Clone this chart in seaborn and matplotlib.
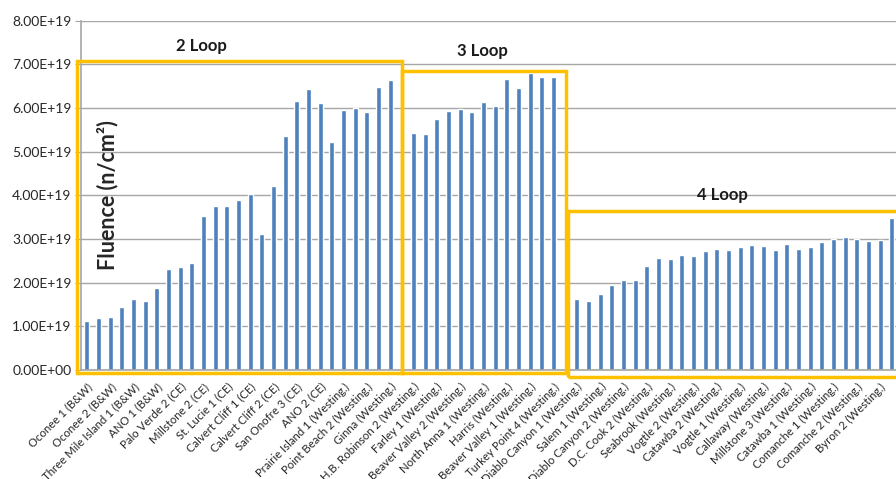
import numpy as np
import pandas as pd
import matplotlib
matplotlib.use("Agg")
import matplotlib.pyplot as plt
from matplotlib.patches import Rectangle
from matplotlib.ticker import FuncFormatter, MultipleLocator
import seaborn as sns

# Peak vessel fluence per plant (n/cm^2), grouped by number of coolant loops
fluence_2loop = np.array([1.13, 1.20, 1.22, 1.44, 1.62, 1.57, 1.87, 2.32, 2.35, 2.46,
                          3.53, 3.75, 3.75, 3.90, 4.02, 3.12, 4.22, 5.36, 6.17, 6.43,
                          6.11, 5.21, 5.95, 5.99, 5.91, 6.49, 6.64]) * 1e19
fluence_3loop = np.array([5.43, 5.41, 5.74, 5.92, 5.98, 5.91, 6.14, 6.05, 6.66, 6.46,
                          6.80, 6.71, 6.71]) * 1e19
fluence_4loop = np.array([1.62, 1.59, 1.73, 1.95, 2.05, 2.05, 2.37, 2.56, 2.54, 2.63,
                          2.62, 2.72, 2.76, 2.74, 2.82, 2.86, 2.84, 2.75, 2.88, 2.78,
                          2.81, 2.92, 3.00, 3.05, 3.00, 2.95, 2.98, 3.48]) * 1e19

# Every other plant carries a visible axis label
labels_2loop = ["Oconee 1 (B&W)", "Oconee 2 (B&W)", "Three Mile Island 1 (B&W)",
                "ANO 1 (B&W)", "Palo Verde 2 (CE)", "Millstone 2 (CE)",
                "St. Lucie 1 (CE)", "Calvert Cliff 1 (CE)", "Calvert Cliff 2 (CE)",
                "San Onofre 3 (CE)", "ANO 2 (CE)", "Prairie Island 1 (Westing.)",
                "Point Beach 2 (Westing.)", "Ginna (Westing.)"]
labels_3loop = ["H.B. Robinson 2 (Westing.)", "Farley 1 (Westing.)",
                "Beaver Valley 2 (Westing.)", "North Anna 1 (Westing.)",
                "Harris (Westing.)", "Beaver Valley 1 (Westing.)",
                "Turkey Point 4 (Westing.)"]
labels_4loop = ["Diablo Canyon 1 (Westing.)", "Salem 1 (Westing.)",
                "Diablo Canyon 2 (Westing.)", "D.C. Cook 2 (Westing.)",
                "Seabrook (Westing.)", "Vogtle 2 (Westing.)", "Catawba 2 (Westing.)",
                "Vogtle 1 (Westing.)", "Callaway (Westing.)", "Millstone 3 (Westing.)",
                "Catawba 1 (Westing.)", "Comanche 1 (Westing.)",
                "Comanche 2 (Westing.)", "Byron 2 (Westing.)"]

group_names = ["2 Loop", "3 Loop", "4 Loop"]

sns.set_style("white")
plt.rcParams["font.family"] = ["Lato", "DejaVu Sans"]

# Lay groups out along the category axis with one empty slot between groups
groups = [fluence_2loop, fluence_3loop, fluence_4loop]
group_labels = [labels_2loop, labels_3loop, labels_4loop]
positions, values, starts = [], [], []
slot = 0
for vals in groups:
    starts.append(slot)
    for v in vals:
        positions.append(slot)
        values.append(v)
        slot += 1
    slot += 1
n_slots = slot - 1
df = pd.DataFrame({"slot": positions, "fluence": values})

label_pos, label_txt = [], []
for st, vals, labs in zip(starts, groups, group_labels):
    for i, lab in enumerate(labs):
        label_pos.append(st + 2 * i)
        label_txt.append(lab)

fig = plt.figure(figsize=(8.96, 4.79), dpi=100)
ax = fig.add_axes([0.0904, 0.2276, 0.9115, 0.7293])

sns.barplot(data=df, x="slot", y="fluence", order=list(range(n_slots)),
            color="#4F81BD", saturation=1, width=0.42, ax=ax, zorder=2)

ax.set_xlim(-0.5, n_slots - 0.5)
ax.set_ylim(0, 8e19)
ax.yaxis.set_major_locator(MultipleLocator(1e19))
ax.yaxis.set_major_formatter(FuncFormatter(lambda v, p: f"{v:.2E}"))
ax.grid(axis="y", color="#A6A6A6", linewidth=1, zorder=0)
ax.set_axisbelow(True)

ax.set_xticks(label_pos)
ax.set_xticklabels(label_txt, rotation=45, ha="right", rotation_mode="anchor",
                   fontsize=8.2, color="#262626")
ax.set_xticks(np.arange(n_slots) + 0.5, minor=True)
ax.tick_params(axis="x", which="major", length=0, pad=8)
ax.tick_params(axis="x", which="minor", length=4, color="#A6A6A6", width=1)
ax.tick_params(axis="y", length=4, color="#A6A6A6", labelsize=10,
               labelcolor="#262626", left=True, pad=3)
ax.set_xlabel("")
ax.set_ylabel("")

for side in ("top", "right"):
    ax.spines[side].set_visible(False)
for side in ("left", "bottom"):
    ax.spines[side].set_color("#A6A6A6")
    ax.spines[side].set_linewidth(1.2)

ax.text(1.81, 4.0e19, "Fluence (n/cm²)", rotation=90, fontsize=15.5,
        fontweight="bold", ha="center", va="center", zorder=4)

# Outline each loop group
gold = "#FFC000"
boxes = [(-0.84, -0.07e19, 27.0, 7.08e19),
         (27.0, -0.07e19, 41.03, 6.85e19),
         (41.2, -0.16e19, 71.0, 3.63e19)]
for (x0, y0, x1, y1) in boxes:
    ax.add_patch(Rectangle((x0, y0), x1 - x0, y1 - y0, fill=False,
                           edgecolor=gold, linewidth=2.5, clip_on=False, zorder=5))

title_pos = [(9.84, 7.42e19), (33.9, 7.30e19), (54.5, 4.0e19)]
for name, (tx, ty) in zip(group_names, title_pos):
    ax.text(tx, ty, name, fontsize=12, fontweight="bold", ha="center",
            va="center", color="#1a1a1a", zorder=6)

fig.savefig("out.png", dpi=100)
